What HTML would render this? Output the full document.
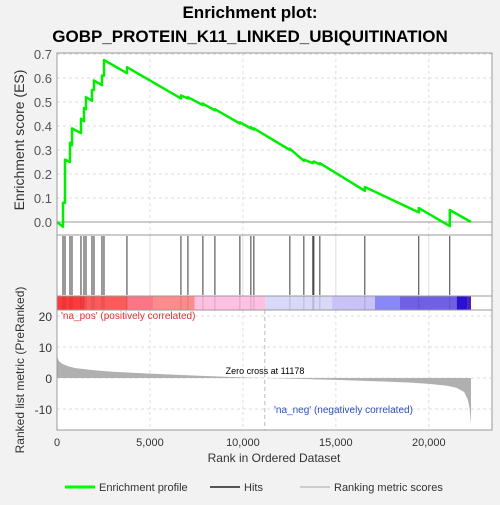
<!DOCTYPE html>
<html><head><meta charset="utf-8"><style>
body{margin:0;background:#f2f2f2;font-family:"Liberation Sans",sans-serif}
svg text{font-family:"Liberation Sans",sans-serif}
</style></head><body>
<svg id="c" width="500" height="500" xmlns="http://www.w3.org/2000/svg">
<rect x="0" y="0" width="500" height="500" fill="#f2f2f2"/>
<text x="250" y="18" text-anchor="middle" font-size="17" font-weight="bold">Enrichment plot:</text>
<text x="250" y="42" text-anchor="middle" font-size="17" font-weight="bold">GOBP_PROTEIN_K11_LINKED_UBIQUITINATION</text>
<rect x="57" y="53" width="435" height="377" fill="#fff"/>
<g id="grid"></g>
<g id="colorbar"></g>
<g id="hits"></g>
<g id="metric"></g>
<g id="es"></g>
<g id="axes"></g>
<text x="265" y="374" text-anchor="middle" font-size="9">Zero cross at 11178</text>
<text x="61" y="319" font-size="10" fill="#e03030">'na_pos' (positively correlated)</text>
<text x="274" y="413" font-size="10" fill="#3050c0">'na_neg' (negatively correlated)</text>
<text x="24" y="140" text-anchor="middle" font-size="14" fill="#333" transform="rotate(-90 24 140)">Enrichment score (ES)</text>
<text x="24" y="370" text-anchor="middle" font-size="12" fill="#333" transform="rotate(-90 24 370)">Ranked list metric (PreRanked)</text>
<text x="274" y="462" text-anchor="middle" font-size="12" fill="#333">Rank in Ordered Dataset</text>
<g>
<line x1="65" y1="487" x2="95" y2="487" stroke="#00ff00" stroke-width="3"/>
<text x="99" y="491" font-size="11" fill="#333">Enrichment profile</text>
<line x1="210" y1="487" x2="240" y2="487" stroke="#555" stroke-width="2"/>
<text x="244" y="491" font-size="11" fill="#333">Hits</text>
<line x1="300" y1="487" x2="330" y2="487" stroke="#ccc" stroke-width="2"/>
<text x="334" y="491" font-size="11" fill="#333">Ranking metric scores</text>
</g>
</svg>
<script>
const hitRanks=[323,430,699,806,1290,1452,1559,1882,1989,2419,2527,3763,6667,7043,7849,8495,9839,10430,10591,12527,13280,13763,13817,14140,16559,19462,21129];
const esBefore=[-0.02,0.08,0.25,0.32,0.37,0.42,0.47,0.505,0.55,0.57,0.61,0.62,0.515,0.515,0.487,0.465,0.41,0.39,0.385,0.30,0.255,0.245,0.248,0.24,0.13,0.04,-0.017];
const esAfter=[0.08,0.26,0.33,0.39,0.43,0.475,0.52,0.55,0.59,0.61,0.675,0.645,0.527,0.52,0.493,0.47,0.415,0.395,0.39,0.305,0.26,0.25,0.252,0.245,0.146,0.058,0.05];
const totalRanks=22270;
const metricRanks=[0,100,300,600,1000,2000,3000,5000,7000,9000,11178,13000,15000,17000,19000,20000,21000,21500,21900,22100,22200,22270];
const metricVals=[7,5.5,4.5,3.8,3.2,2.5,2,1.4,0.9,0.4,0,-0.3,-0.6,-1,-1.5,-1.9,-2.5,-3.2,-4.5,-7,-10,-15];
const esTicks=[0,0.1,0.2,0.3,0.4,0.5,0.6,0.7];
const metricTicks=[20,10,0,-10];
const xTicks=[0,5000,10000,15000,20000];
const xTickLabels=["0","5,000","10,000","15,000","20,000"];
const barColors=[[0,"#ff3a3a"],[1500,"#ff5a5a"],[3800,"#ff7585"],[5200,"#ff8c8c"],[7400,"#ffc0e2"],[11200,"#d8d8f8"],[14800,"#c8c2f8"],[17100,"#8a88f8"],[18450,"#7060e8"],[21500,"#2a10d0"],[22100,"#5020b0"]];
const NS="http://www.w3.org/2000/svg";
const X=r=>57+r*(435/23400);
const YE=v=>222-v*240;
const YM=v=>378-v*3.1;
function mk(parent,tag,attrs){const e=document.createElementNS(NS,tag);for(const k in attrs)e.setAttribute(k,attrs[k]);document.getElementById(parent).appendChild(e);return e;}
xTicks.forEach((t,i)=>{if(i===0)return;
 const g=mk('grid','line',{x1:X(t),x2:X(t),y1:53,y2:235,stroke:'#ddd','stroke-dasharray':'3,3'});
 
 
 const g2=mk('grid','line',{x1:X(t),x2:X(t),y1:310,y2:430,stroke:'#ddd','stroke-dasharray':'3,3'});
 
 
 const g3=mk('grid','line',{x1:X(t),x2:X(t),y1:235,y2:296,stroke:'#ddd'});
 
 
});
esTicks.forEach(t=>{
 const g=mk('grid','line',{x1:57,x2:492,y1:YE(t),y2:YE(t),stroke:t===0?'#999':'#ddd','stroke-dasharray':t===0?'':'3,3'});
 
 
 const l=mk('axes','text',{x:52,y:YE(t)+5,'text-anchor':'end','font-size':13,fill:'#555'});
 l.textContent=t.toFixed(1);
 
 
});
metricTicks.forEach(t=>{
 const g=mk('grid','line',{x1:57,x2:492,y1:YM(t),y2:YM(t),stroke:'#ddd','stroke-dasharray':'3,3'});
 
 
 const l=mk('axes','text',{x:52,y:YM(t)+5,'text-anchor':'end','font-size':12,fill:'#333'});
 l.textContent=t;
 
 
});
xTicks.forEach((t,i)=>{
 const l=mk('axes','text',{x:X(t),y:446,'text-anchor':'middle','font-size':11,fill:'#333'});
 l.textContent=xTickLabels[i];
 
 
});
const zc=mk('grid','line',{x1:X(11178),x2:X(11178),y1:310,y2:430,stroke:'#bbb','stroke-dasharray':'4,3'});


barColors.forEach((c,i)=>{const end=i<barColors.length-1?barColors[i+1][0]:totalRanks;
 const r=mk('colorbar','rect',{x:X(c[0]),y:296,width:X(end)-X(c[0]),height:14,fill:c[1]});
 
 
});
hitRanks.forEach(h=>{
 const l=mk('hits','line',{x1:X(h),x2:X(h),y1:236,y2:295,stroke:'#222','stroke-width':0.9});
 
 
 const l2=mk('colorbar','line',{x1:X(h),x2:X(h),y1:296,y2:310,stroke:'rgba(0,0,0,0.15)'});
 
 
});
let d='M'+X(0)+','+YM(0);
metricRanks.forEach((r,i)=>{d+=' L'+X(r)+','+YM(metricVals[i]);});
d+=' L'+X(totalRanks)+','+YM(0)+' Z';
const ma=mk('metric','path',{d:d,fill:'#b0b0b0'});


let p='M'+X(0)+','+YE(0);
hitRanks.forEach((h,i)=>{p+=' L'+X(h)+','+YE(esBefore[i])+' L'+X(h)+','+YE(esAfter[i]);});
p+=' L'+X(totalRanks)+','+YE(0);
const es=mk('es','path',{d:p,fill:'none',stroke:'#00ee00','stroke-width':2.5,'stroke-linejoin':'round'});


[[53,235],[235,296],[296,310],[310,430]].forEach(b=>{
 const r=mk('axes','rect',{x:57,y:b[0],width:435,height:b[1]-b[0],fill:'none',stroke:'#999'});
 
 
});
</script>
</body></html>
